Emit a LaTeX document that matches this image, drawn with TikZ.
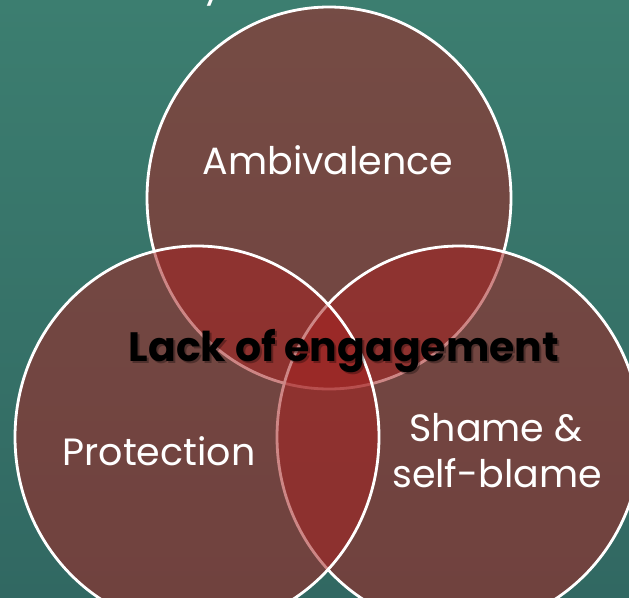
\documentclass[tikz,border=0pt]{standalone}
\usepackage{fontspec}
\setmainfont{Poppins}
\usetikzlibrary{shapes.geometric}
\definecolor{bgtop}{RGB}{60,126,112}
\definecolor{bgbot}{RGB}{49,104,98}
\definecolor{vennred}{RGB}{165,35,34}
\tikzset{
  venn/.style={ellipse, draw=white, line width=2.8pt, fill=vennred, fill opacity=0.55,
    inner sep=0pt, outer sep=0pt, minimum width=364pt, minimum height=382pt},
  label/.style={text=white, anchor=base, inner sep=0pt, font=\fontsize{38}{46}\selectfont},
  title/.style={anchor=base, inner sep=0pt, font=\fontsize{41}{48}\selectfont\bfseries}
}
\begin{document}
\begin{tikzpicture}[x=1pt,y=-1pt]
\useasboundingbox (0,0) rectangle (629,597);
\clip (0,0) rectangle (629,597);
% background
\shade[top color=bgtop, bottom color=bgbot] (0,0) rectangle (629,597);
% descender of the heading line above
\node[label] (head) at (213,-4) {y};
% the three sets
\node[venn] (top) at (329,198) {};
\node[venn] (right) at (459,437) {};
\node[venn] (left) at (197,437) {};
% set labels
\node[label] (amb) at (328,174) {Ambivalence};
\node[label] (prot) at (159,465) {Protection};
\node[label] (shame) at (496,441) {Shame \&};
\node[label] (blame) at (497,487) {self-blame};
% centre label with its shadow
\node[title, text=black, opacity=0.3] (lackshadow) at (346,363) {Lack of engagement};
\node[title, text=black] (lack) at (344,361) {Lack of engagement};
\end{tikzpicture}
\end{document}
